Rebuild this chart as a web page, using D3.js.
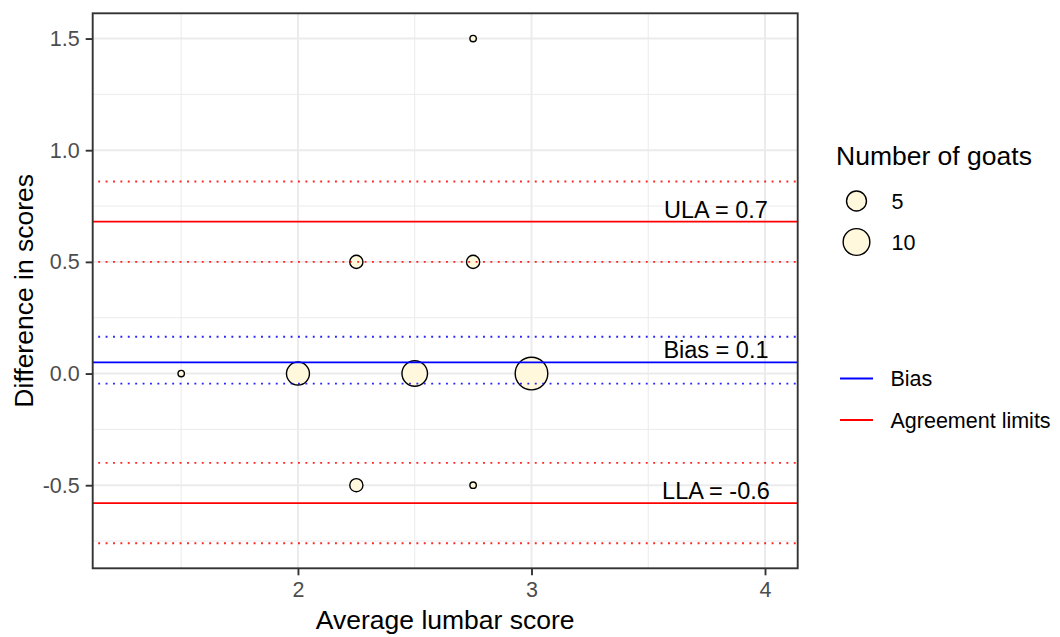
<!DOCTYPE html>
<html>
<head>
<meta charset="utf-8">
<script src="https://cdn.jsdelivr.net/npm/d3@7"></script>
<style>
  html, body { margin: 0; padding: 0; background: #ffffff; }
  svg { display: block; font-family: "Liberation Sans", Arial, sans-serif; }
</style>
</head>
<body>
<svg id="chart" width="1060" height="637"></svg>
<script>
// ---- data ----
const avgScore  = [1.5, 2, 2.25, 2.25, 2.5, 2.75, 2.75, 2.75, 3];
const diffScore = [0, 0, 0.5, -0.5, 0, 1.5, 0.5, -0.5, 0];
const goatCount = [1, 7, 2, 2, 9, 1, 2, 1, 16];

const limitNames  = ["Bias", "ULA", "LLA"];
const limitValues = [0.05, 0.68, -0.58];
const limitLower  = [-0.045, 0.50, -0.76];
const limitUpper  = [0.165, 0.86, -0.40];
const limitLabels = ["Bias = 0.1", "ULA = 0.7", "LLA = -0.6"];
const limitGroup  = ["Bias", "Agreement limits", "Agreement limits"];

const colourLegendNames = ["Bias", "Agreement limits"];
const sizeBreaks = [5, 10];

const xTicks = [2, 3, 4];
const xTickLabels = ["2", "3", "4"];
const xMinor = [1.5, 2.5, 3.5];
const yTicks = [-0.5, 0, 0.5, 1.0, 1.5];
const yTickLabels = ["-0.5", "0.0", "0.5", "1.0", "1.5"];
const yMinor = [-0.75, -0.25, 0.25, 0.75, 1.25];

const labelX = 3.79;

// ---- layout ----
const svg = d3.select("#chart");
const P = { left: 92.7, right: 797.7, top: 13.3, bottom: 568.3 };
const x = d3.scaleLinear().domain([1.121, 4.14]).range([P.left, P.right]);
const y = d3.scaleLinear().domain([-0.872, 1.613]).range([P.bottom, P.top]);
const colour = d3.scaleOrdinal().domain(colourLegendNames).range(["#0000FF", "#FF0000"]);
const nMin = d3.min(goatCount), nMax = d3.max(goatCount);
const rS = d3.scaleSqrt().domain([0, nMax - nMin]).range([3.2, 16.3]);
const radius = n => rS(Math.max(0, n - nMin));

const grid = svg.append("g");
// minor grid
grid.selectAll(".ymin").data(yMinor).join("line")
  .attr("x1", P.left).attr("x2", P.right)
  .attr("y1", d => y(d)).attr("y2", d => y(d))
  .attr("stroke", "#EBEBEB").attr("stroke-width", 1);
grid.selectAll(".xmin").data(xMinor).join("line")
  .attr("y1", P.top).attr("y2", P.bottom)
  .attr("x1", d => x(d)).attr("x2", d => x(d))
  .attr("stroke", "#EBEBEB").attr("stroke-width", 1);
// major grid
grid.selectAll(".ymaj").data(yTicks).join("line")
  .attr("x1", P.left).attr("x2", P.right)
  .attr("y1", d => y(d)).attr("y2", d => y(d))
  .attr("stroke", "#EBEBEB").attr("stroke-width", 1.9);
grid.selectAll(".xmaj").data(xTicks).join("line")
  .attr("y1", P.top).attr("y2", P.bottom)
  .attr("x1", d => x(d)).attr("x2", d => x(d))
  .attr("stroke", "#EBEBEB").attr("stroke-width", 1.9);

// points
const pts = avgScore.map((a, i) => ({ a, d: diffScore[i], n: goatCount[i] }));
svg.append("g").selectAll("circle").data(pts).join("circle")
  .attr("cx", p => x(p.a)).attr("cy", p => y(p.d)).attr("r", p => radius(p.n))
  .attr("fill", "#FFF8DC").attr("stroke", "#000000").attr("stroke-width", 1.4);

// limit lines
const lines = svg.append("g");
limitNames.forEach((nm, i) => {
  const c = colour(limitGroup[i]);
  [limitLower[i], limitUpper[i]].forEach(v => {
    lines.append("line")
      .attr("x1", P.left).attr("x2", P.right)
      .attr("y1", y(v)).attr("y2", y(v))
      .attr("stroke", c).attr("stroke-width", 1.9)
      .attr("stroke-dasharray", "1.9 5.5").attr("stroke-dashoffset", -5.5)
      .attr("opacity", 0.85);
  });
  lines.append("line")
    .attr("x1", P.left).attr("x2", P.right)
    .attr("y1", y(limitValues[i])).attr("y2", y(limitValues[i]))
    .attr("stroke", c).attr("stroke-width", 1.8);
  lines.append("text")
    .attr("x", x(labelX)).attr("y", y(limitValues[i]) - 4)
    .attr("text-anchor", "middle")
    .attr("font-size", 23.5).attr("fill", "#000000")
    .text(limitLabels[i]);
});

// panel border
svg.append("rect")
  .attr("x", P.left).attr("y", P.top)
  .attr("width", P.right - P.left).attr("height", P.bottom - P.top)
  .attr("fill", "none").attr("stroke", "#333333").attr("stroke-width", 1.9);

// axes
const xAxis = svg.append("g").attr("transform", `translate(0,${P.bottom})`)
  .call(d3.axisBottom(x).tickValues(xTicks).tickFormat((d, i) => xTickLabels[i])
    .tickSize(7).tickPadding(6));
const yAxis = svg.append("g").attr("transform", `translate(${P.left},0)`)
  .call(d3.axisLeft(y).tickValues(yTicks).tickFormat((d, i) => yTickLabels[i])
    .tickSize(7).tickPadding(6));
[xAxis, yAxis].forEach(ax => {
  ax.select(".domain").remove();
  ax.selectAll(".tick line").attr("stroke", "#333333").attr("stroke-width", 1.9);
  ax.selectAll(".tick text").attr("fill", "#4D4D4D")
    .attr("font-size", 21.5).attr("font-family", "Liberation Sans, Arial, sans-serif");
});

// axis titles
svg.append("text")
  .attr("x", (P.left + P.right) / 2).attr("y", 629)
  .attr("text-anchor", "middle").attr("font-size", 26.5).attr("fill", "#000000")
  .text("Average lumbar score");
svg.append("text")
  .attr("transform", `translate(33,${(P.top + P.bottom) / 2}) rotate(-90)`)
  .attr("text-anchor", "middle").attr("font-size", 26.5).attr("fill", "#000000")
  .text("Difference in scores");

// size legend
const lg = svg.append("g");
lg.append("text").attr("x", 836).attr("y", 165)
  .attr("font-size", 26.5).attr("fill", "#000000").text("Number of goats");
const sizeKeyY = [201, 242];
sizeBreaks.forEach((b, i) => {
  lg.append("circle").attr("cx", 856.5).attr("cy", sizeKeyY[i]).attr("r", radius(b))
    .attr("fill", "#FFF8DC").attr("stroke", "#000000").attr("stroke-width", 1.4);
  lg.append("text").attr("x", 891.5).attr("y", sizeKeyY[i]).attr("dy", "0.36em")
    .attr("font-size", 21.5).attr("fill", "#000000").text(String(b));
});

// colour legend
const colKeyY = [378.5, 420];
colourLegendNames.forEach((nm, i) => {
  lg.append("line").attr("x1", 840).attr("x2", 873)
    .attr("y1", colKeyY[i]).attr("y2", colKeyY[i])
    .attr("stroke", colour(nm)).attr("stroke-width", 1.8);
  lg.append("text").attr("x", 890.5).attr("y", colKeyY[i]).attr("dy", "0.36em")
    .attr("font-size", 21.5).attr("fill", "#000000").text(nm);
});
</script>
</body>
</html>
